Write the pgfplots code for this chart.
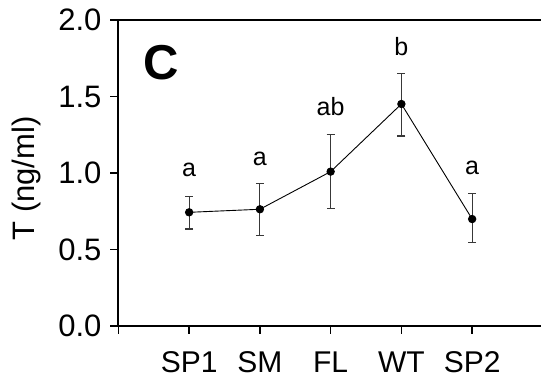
\documentclass[border=0pt]{standalone}
\usepackage{fontspec}
\setmainfont{Liberation Sans}
\usepackage{pgfplots}
\pgfplotsset{compat=1.18}
\begin{document}
\begin{tikzpicture}
\begin{axis}[
  scale only axis,
  x=70.75pt, y=153pt,
  xmin=0, xmax=6, ymin=0, ymax=2,
  axis x line*=box, axis y line*=left,
  axis line style={line width=2pt, black},
  xtick={0,1,2,3,4,5},
  xticklabels={,SP1,SM,FL,WT,SP2},
  ytick={0,0.5,1,1.5,2},
  yticklabel={\pgfmathprintnumber[fixed,fixed zerofill,precision=1]{\tick}},
  /pgf/number format/assume math mode=true,
  tick align=outside,
  xtick pos=left, ytick pos=left,
  major tick length=8pt,
  tick style={line width=1.5pt, black},
  yticklabel style={font=\fontsize{31}{37}\selectfont, xshift=-5.5pt},
  xticklabel style={font=\fontsize{30}{36}\selectfont, yshift=-14pt},
  clip=false,
]
\coordinate (O) at (rel axis cs:0,0);
\addplot[black, line width=0.9pt, mark=*, mark size=3.7pt, mark options={fill=black, solid},
  error bars/.cd, y dir=both, y explicit,
  error bar style={line width=1.1pt, color=black!78},
  error mark options={rotate=90, mark size=4pt, line width=1.1pt, black!78}]
coordinates {
  (1,0.743) += (0,0.102) -= (0,0.109)
  (2,0.763) += (0,0.170) -= (0,0.173)
  (3,1.009) += (0,0.244) -= (0,0.244)
  (4,1.451) += (0,0.201) -= (0,0.209)
  (5,0.699) += (0,0.168) -= (0,0.154)
};
\node[anchor=base, font=\fontsize{25}{30}\selectfont, inner sep=0pt] at (axis cs:1,0.976) {a};
\node[anchor=base, font=\fontsize{25}{30}\selectfont, inner sep=0pt] at (axis cs:2,1.052) {a};
\node[anchor=base, font=\fontsize{25}{30}\selectfont, inner sep=0pt] at (axis cs:3,1.379) {ab};
\node[anchor=base, font=\fontsize{25}{30}\selectfont, inner sep=0pt] at (axis cs:4,1.765) {b};
\node[anchor=base, font=\fontsize{25}{30}\selectfont, inner sep=0pt] at (axis cs:5,0.987) {a};
\node[anchor=base, font=\fontsize{49}{58}\selectfont\bfseries, inner sep=0pt] at (axis cs:0.602,1.614) {C};
\node[rotate=90, anchor=base, font=\fontsize{31}{37}\selectfont, inner sep=0pt] at ([xshift=-83.4pt]rel axis cs:0,0.482) {T (ng/ml)};
\end{axis}
\pgfresetboundingbox
\useasboundingbox ([shift={(-118.4pt,-61pt)}]O) rectangle ([shift={(422.6pt,326pt)}]O);
\end{tikzpicture}
\end{document}
